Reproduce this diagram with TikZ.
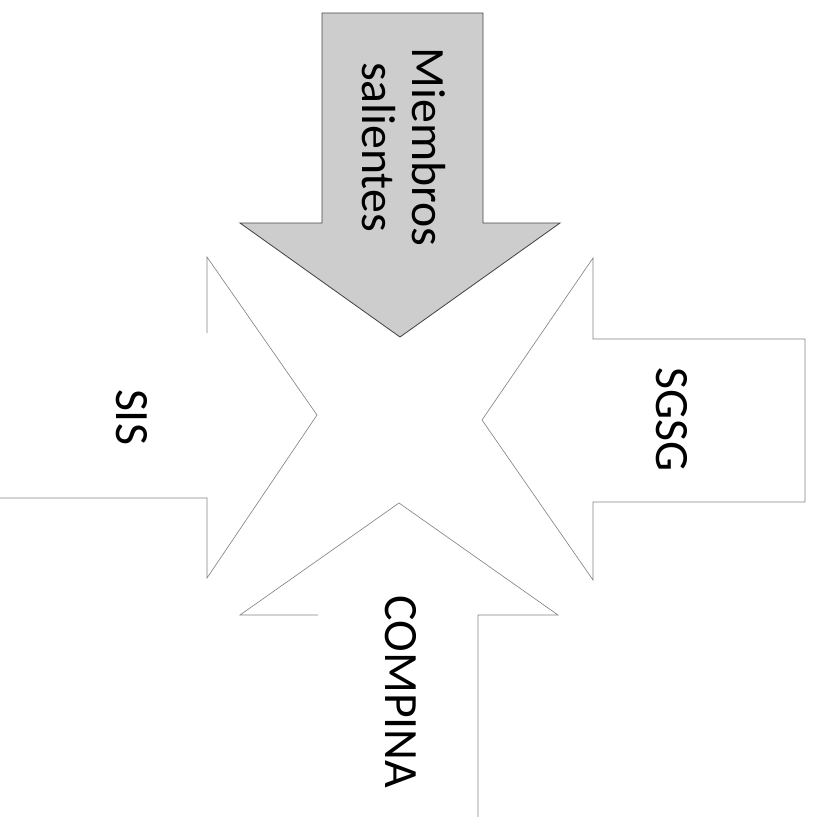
\documentclass[tikz,border=0pt]{standalone}
\usepackage{fontspec}
\setmainfont{Carlito}
\usepackage{tikz}
\definecolor{OutFill}{RGB}{205,205,205}
\definecolor{OutLine}{RGB}{70,70,70}
\definecolor{InLine} {RGB}{130,130,130}
\tikzset{
  arw_out/.style={fill=OutFill, draw=OutLine, line width=0.6pt, line join=miter},
  arw_in/.style={draw=InLine, line width=0.45pt, line join=miter},
  lbl_big/.style={rotate=-90, font=\fontsize{34}{40}\selectfont, inner sep=0pt},
  lbl_out/.style={rotate=-90, font=\fontsize{34}{36}\selectfont,
    align=center, inner sep=0pt},
}
\begin{document}
\begin{tikzpicture}[x=0.025cm,y=-0.025cm]
\useasboundingbox (0,0) rectangle (816,817);

%% outgoing members (top, pointing down)
\draw[arw_out] (322,13) -- (483,13) -- (483,223) -- (560,223)
  -- (400,337) -- (240,223) -- (322,223) -- cycle;
\node[lbl_out] at (404,147) (MS){Miembros\\salientes};

%% SIS (left, pointing right)
\draw[arw_in] (207,333) -- (207,257) -- (317,415) -- (207,578)
  -- (207,498) -- (0,498);
\node[lbl_big] at (132,417) (SIS){SIS};

%% SGSG (right, pointing left)
\draw[arw_in] (805,339) -- (593,339) -- (593,258) -- (482,420)
  -- (593,580) -- (593,502) -- (805,502) -- cycle;
\node[lbl_big] at (672,420) (SGSG){SGSG};

%% COMPINA (bottom, pointing up)
\draw[arw_in] (318,615) -- (240,615) -- (399,503) -- (558,615)
  -- (478,615) -- (478,817);
\node[lbl_big] at (401,692) (CP){COMPINA};

\end{tikzpicture}
\end{document}
